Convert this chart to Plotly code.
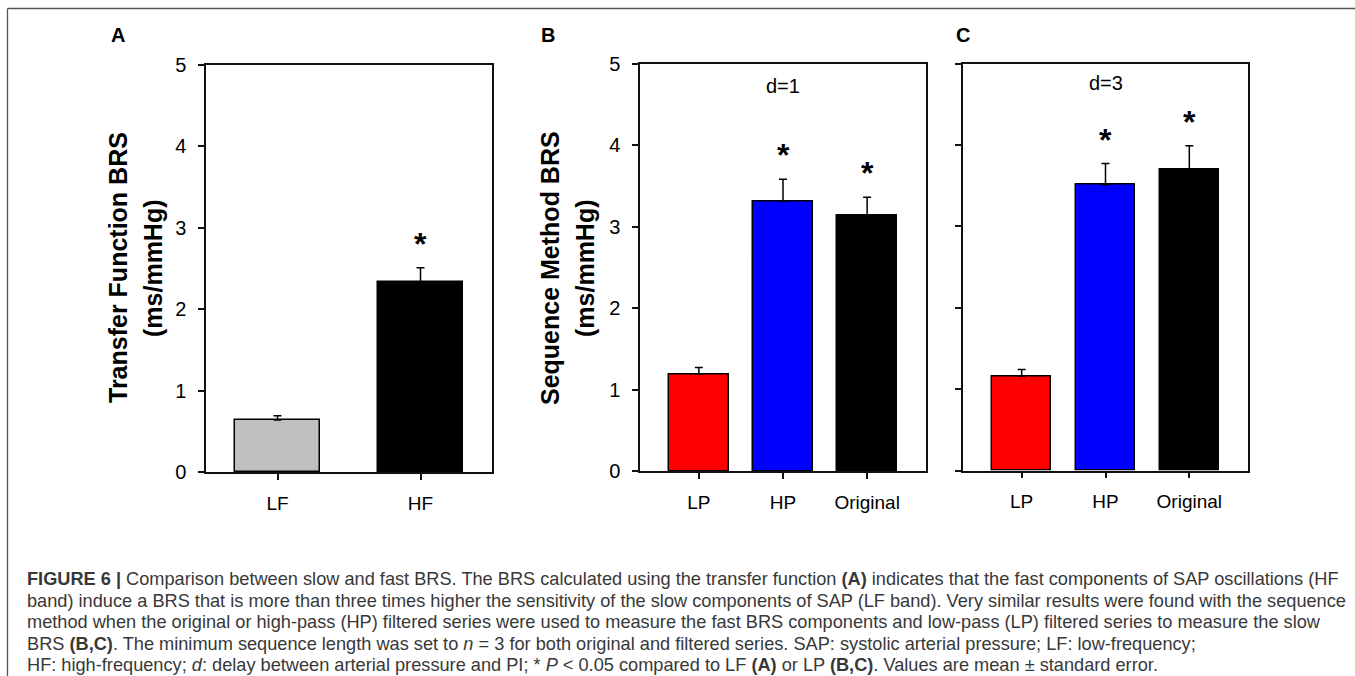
import plotly.graph_objects as go

W, H = 1355, 676

# ---------------- data ----------------
a_cats = ["LF", "HF"]
a_vals = [0.64, 2.33]
a_err = [0.05, 0.18]
a_colors = ["#c0c0c0", "#000000"]
a_sig = [False, True]

bc_cats = ["LP", "HP", "Original"]
b_vals = [1.19, 3.31, 3.13]
b_err = [0.08, 0.27, 0.23]
c_vals = [1.16, 3.51, 3.70]
c_err = [0.08, 0.26, 0.29]
bc_colors = ["#ff0000", "#0000ff", "#000000"]
bc_sig = [False, True, True]

y_ticks = [0, 1, 2, 3, 4, 5]
panel_letters = ["A", "B", "C"]
panel_notes = ["", "d=1", "d=3"]
panel_note_y = [None, 4.73, 4.76]
y_titles = [("Transfer Function BRS", "(ms/mmHg)"), ("Sequence Method BRS", "(ms/mmHg)")]

caption_lines = [
    "<b>FIGURE 6 |</b> Comparison between slow and fast BRS. The BRS calculated using the transfer function <b>(A)</b> indicates that the fast components of SAP oscillations (HF",
    "band) induce a BRS that is more than three times higher the sensitivity of the slow components of SAP (LF band). Very similar results were found with the sequence",
    "method when the original or high-pass (HP) filtered series were used to measure the fast BRS components and low-pass (LP) filtered series to measure the slow",
    "BRS <b>(B,C)</b>. The minimum sequence length was set to <i>n</i> = 3 for both original and filtered series. SAP: systolic arterial pressure; LF: low-frequency;",
    "HF: high-frequency; <i>d</i>: delay between arterial pressure and PI; * <i>P</i> &lt; 0.05 compared to LF <b>(A)</b> or LP <b>(B,C)</b>. Values are mean ± standard error.",
]

# ---------------- layout helpers ----------------
def px(x):
    return x / W

def py(y):
    return 1 - y / H

FONT = "Arial, Liberation Sans, sans-serif"
STAR_OFFSET = 0.33

fig = go.Figure()

panels = [
    dict(cats=a_cats, vals=a_vals, err=a_err, colors=a_colors, sig=a_sig, width=0.6,
         xr=[-0.5, 1.5], xd=[206, 492], yd=[65, 472], labels=True),
    dict(cats=bc_cats, vals=b_vals, err=b_err, colors=bc_colors, sig=bc_sig, width=0.71,
         xr=[-0.7, 2.7], xd=[640, 926], yd=[63.5, 471], labels=True),
    dict(cats=bc_cats, vals=c_vals, err=c_err, colors=bc_colors, sig=bc_sig, width=0.71,
         xr=[-0.7, 2.7], xd=[963, 1248], yd=[63.5, 470.5], labels=False),
]

annotations = []
for i, p in enumerate(panels):
    sfx = "" if i == 0 else str(i + 1)
    fig.add_trace(go.Bar(
        x=p["cats"], y=p["vals"], width=p["width"],
        marker=dict(color=p["colors"], line=dict(color="black", width=1.5)),
        error_y=dict(type="data", symmetric=False, array=p["err"],
                     arrayminus=[0] * len(p["err"]), color="black", thickness=1.5, width=4),
        xaxis="x" + sfx, yaxis="y" + sfx, showlegend=False,
    ))
    axis_common = dict(showline=True, linecolor="#111", linewidth=1.5, mirror=True,
                       showgrid=False, zeroline=False, ticks="outside", ticklen=6,
                       tickwidth=1.5, tickcolor="#111", automargin=False)
    fig.update_layout(**{
        "xaxis" + sfx: dict(axis_common, domain=[px(p["xd"][0]), px(p["xd"][1])],
                            anchor="y" + sfx, range=p["xr"], type="category",
                            tickfont=dict(family=FONT, size=19, color="black"),
                            ticklabelstandoff=7),
        "yaxis" + sfx: dict(axis_common, domain=[py(p["yd"][1]), py(p["yd"][0])],
                            anchor="x" + sfx, range=[0, 5], tickvals=y_ticks,
                            showticklabels=p["labels"],
                            tickfont=dict(family=FONT, size=20, color="black"),
                            ticklabelstandoff=8),
    })
    # significance stars
    for c, v, e, s in zip(p["cats"], p["vals"], p["err"], p["sig"]):
        if s:
            annotations.append(dict(x=c, y=v + e + STAR_OFFSET, xref="x" + sfx, yref="y" + sfx,
                                    text="<b>*</b>", showarrow=False, xanchor="center", yanchor="middle",
                                    font=dict(family=FONT, size=32, color="black"), yshift=-3))
    if panel_notes[i]:
        annotations.append(dict(x=p["cats"][1], y=panel_note_y[i], xref="x" + sfx, yref="y" + sfx,
                                text=panel_notes[i], showarrow=False, xanchor="center", yanchor="middle",
                                font=dict(family=FONT, size=20, color="black")))

# panel letters
for letter, xc in zip(panel_letters, [118, 548, 963]):
    annotations.append(dict(x=px(xc), y=py(35), xref="paper", yref="paper", text="<b>" + letter + "</b>",
                            xanchor="center", yanchor="middle",
                            showarrow=False, font=dict(family=FONT, size=20, color="black")))

# y-axis titles
for (l1, l2), (x1, x2), yc in zip(y_titles, [(118, 153), (550, 585)], [268, 268]):
    for t, xx in ((l1, x1), (l2, x2)):
        annotations.append(dict(x=px(xx), y=py(yc), xref="paper", yref="paper", text="<b>" + t + "</b>",
                                textangle=-90, showarrow=False, xanchor="center", yanchor="middle",
                                font=dict(family=FONT, size=25, color="black")))

# caption
for k, line in enumerate(caption_lines):
    annotations.append(dict(x=px(25), y=py(579 + 21.5 * k), xref="paper", yref="paper",
                            xanchor="left", yanchor="middle", align="left", text=line,
                            showarrow=False, font=dict(family=FONT, size=18.2, color="#383838")))

shapes = [
    dict(type="line", xref="paper", yref="paper", x0=px(7.5), x1=1, y0=py(8.5), y1=py(8.5),
         line=dict(color="#555", width=1.3)),
    dict(type="line", xref="paper", yref="paper", x0=px(7.5), x1=px(7.5), y0=py(8.5), y1=0,
         line=dict(color="#555", width=1.3)),
]

fig.update_layout(width=W, height=H, margin=dict(l=0, r=0, t=0, b=0, autoexpand=False),
                  paper_bgcolor="white", plot_bgcolor="white",
                  annotations=annotations, shapes=shapes, bargap=0)

fig.write_html("out.html")
